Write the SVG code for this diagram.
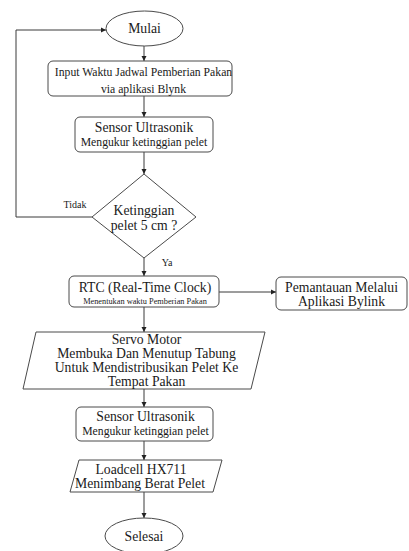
<svg xmlns="http://www.w3.org/2000/svg" width="409" height="551" viewBox="0 0 409 551">
<style>
.s{fill:#fff;stroke:#4a4a4a;stroke-width:1}
.c{fill:none;stroke:#3a3a3a;stroke-width:1}
text{font-family:"Liberation Serif","Times New Roman",serif;fill:#1a1a1a;text-anchor:middle}
.m{font-size:13.7px}
.n{font-size:11.7px}
.x{font-size:8.3px}
.l{font-size:10px}
</style>
<defs>
<marker id="a" markerWidth="6" markerHeight="6" refX="5" refY="3" orient="auto" markerUnits="userSpaceOnUse">
<path d="M0,0.5 L5,3 L0,5.5 Z" fill="#222"/>
</marker>
</defs>
<rect width="409" height="551" fill="#fff"/>
<g id="connectors">
<line class="c" x1="144" y1="46" x2="144" y2="61" marker-end="url(#a)"/>
<line class="c" x1="144" y1="96" x2="144" y2="117" marker-end="url(#a)"/>
<line class="c" x1="144" y1="152" x2="144" y2="174" marker-end="url(#a)"/>
<line class="c" x1="144" y1="258" x2="144" y2="276" marker-end="url(#a)"/>
<polyline class="c" points="92,217 16,217 16,30 106,30" marker-end="url(#a)"/>
<line class="c" x1="219" y1="292" x2="276" y2="292" marker-end="url(#a)"/>
<line class="c" x1="144" y1="307" x2="144" y2="332" marker-end="url(#a)"/>
<line class="c" x1="144" y1="389" x2="144" y2="407" marker-end="url(#a)"/>
<line class="c" x1="144" y1="441" x2="144" y2="460" marker-end="url(#a)"/>
<line class="c" x1="144" y1="492" x2="144" y2="518" marker-end="url(#a)"/>
<text class="l" x="75" y="208">Tidak</text>
<text class="l" x="167" y="266">Ya</text>
</g>
<g id="mulai">
<ellipse class="s" cx="144.5" cy="28.5" rx="38.5" ry="17.5"/>
<text class="m" x="144.5" y="33">Mulai</text>
</g>
<g id="input">
<rect class="s" x="48" y="61" width="184" height="35" rx="5"/>
<text class="n" x="143.5" y="76">Input Waktu Jadwal Pemberian Pakan</text>
<text class="n" x="143.5" y="93">via aplikasi Blynk</text>
</g>
<g id="sensor1">
<rect class="s" x="75" y="117" width="138" height="35" rx="5"/>
<text class="m" x="144" y="132">Sensor Ultrasonik</text>
<text class="n" x="144" y="146">Mengukur ketinggian pelet</text>
</g>
<g id="decision">
<polygon class="s" points="144,174 196,217 144,258 92,217"/>
<text class="m" x="144" y="215">Ketinggian</text>
<text class="m" x="144" y="230">pelet 5 cm ?</text>
</g>
<g id="rtc">
<rect class="s" x="69" y="276" width="150" height="31" rx="5"/>
<text class="m" x="145" y="292">RTC (Real-Time Clock)</text>
<text class="x" x="145" y="304">Menentukan waktu Pemberian Pakan</text>
</g>
<g id="pemantauan">
<rect class="s" x="276" y="277" width="131" height="33" rx="5"/>
<text class="m" x="341.5" y="292">Pemantauan Melalui</text>
<text class="m" x="341.5" y="306">Aplikasi Bylink</text>
</g>
<g id="servo">
<polygon class="s" points="36,332 265,332 251,389 23,389"/>
<text class="m" x="146.5" y="344">Servo Motor</text>
<text class="m" x="146.5" y="358">Membuka Dan Menutup Tabung</text>
<text class="m" x="146.5" y="372">Untuk Mendistribusikan Pelet Ke</text>
<text class="m" x="146.5" y="386">Tempat Pakan</text>
</g>
<g id="sensor2">
<rect class="s" x="76" y="407" width="137" height="34" rx="5"/>
<text class="m" x="145.5" y="421">Sensor Ultrasonik</text>
<text class="n" x="145.5" y="435">Mengukur ketinggian pelet</text>
</g>
<g id="loadcell">
<polygon class="s" points="79,460 222,460 213,492 70,492"/>
<text class="m" x="141" y="474">Loadcell HX711</text>
<text class="m" x="140" y="488">Menimbang Berat Pelet</text>
</g>
<g id="selesai">
<ellipse class="s" cx="144" cy="536" rx="39" ry="18"/>
<text class="m" x="144" y="541">Selesai</text>
</g>
</svg>
